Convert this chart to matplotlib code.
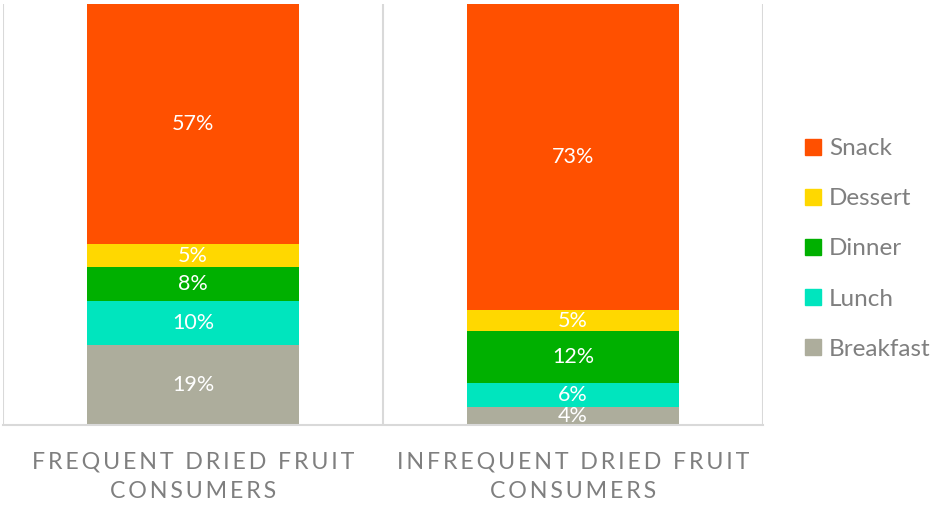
import numpy as np
import matplotlib.pyplot as plt
from matplotlib.patches import Patch

plt.rcParams['font.family'] = ['Lato', 'DejaVu Sans']

groups = ['FREQUENT DRIED FRUIT\nCONSUMERS', 'INFREQUENT DRIED FRUIT\nCONSUMERS']
meals = ['Breakfast', 'Lunch', 'Dinner', 'Dessert', 'Snack']
colors = ['#ADAD9C', '#00E5BE', '#00B000', '#FFD800', '#FF5000']

# share of eating occasions (%), stacked bottom to top
breakfast = [19.0, 4.3]
lunch = [10.4, 5.7]
dinner = [8.1, 12.4]
dessert = [5.4, 4.8]
snack = [57.1, 72.8]
shares = [breakfast, lunch, dinner, dessert, snack]

grey = '#7F7F7F'
grid = '#D9D9D9'


def spaced(label):
    # wide tracking on the category labels
    return '\n'.join('\u2009'.join(line) for line in label.split('\n'))


fig = plt.figure(figsize=(9.4, 5.05), dpi=100)
ax = fig.add_axes([3 / 940, 80 / 505, 760 / 940, 421 / 505])

x = np.arange(len(groups))
bottom = np.zeros(len(groups))
for name, vals, c in zip(meals, shares, colors):
    vals = np.array(vals)
    ax.bar(x, vals, 0.56, bottom=bottom, color=c, label=name, zorder=2)
    for xi, b, v in zip(x, bottom, vals):
        ax.text(xi, b + v / 2, '{:.0f}%'.format(v), ha='center', va='center',
                color='white', fontsize=15.5, zorder=3, clip_on=True)
    bottom += vals

ax.set_xlim(-0.5, 1.5)
ax.set_ylim(0, 100)
for xv in [-0.5, 0.5, 1.5]:
    ax.axvline(xv, color=grid, lw=1.5, zorder=1)
for s in ['top', 'left', 'right']:
    ax.spines[s].set_visible(False)
ax.spines['bottom'].set_color(grid)
ax.spines['bottom'].set_linewidth(1.5)
ax.set_yticks([])
ax.set_xticks(x)
ax.set_xticklabels([spaced(g) for g in groups], color=grey, fontsize=16.7,
                   linespacing=1.5)
ax.tick_params(axis='x', length=0, pad=19)

handles = [Patch(color=c) for c in colors][::-1]
fig.legend(handles, meals[::-1], loc='center left',
           bbox_to_anchor=(783 / 940, 1 - 249 / 505), frameon=False,
           fontsize=17.5, labelcolor=grey, handlelength=0.65,
           handleheight=0.65, handletextpad=0.35, labelspacing=1.2)

fig.savefig('out.png', dpi=100)
